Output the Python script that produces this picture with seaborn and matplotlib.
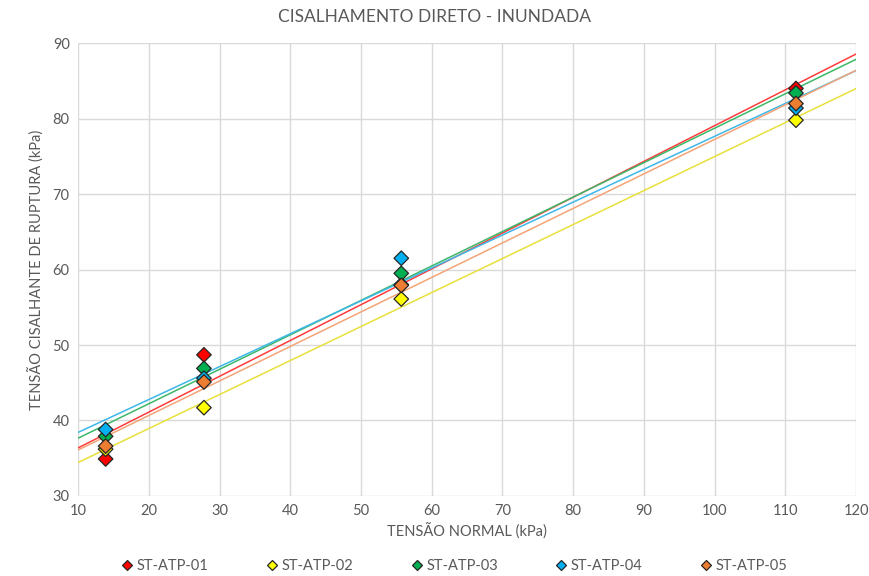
import numpy as np
import pandas as pd
import matplotlib
matplotlib.use("Agg")
import matplotlib.pyplot as plt
import seaborn as sns

# dados
tensao_normal = [13.9, 27.8, 55.7, 111.5]
amostras = ["ST-ATP-01", "ST-ATP-02", "ST-ATP-03", "ST-ATP-04", "ST-ATP-05"]
st_atp_01 = [34.9, 48.7, 58.0, 84.0]
st_atp_02 = [36.2, 41.7, 56.1, 79.8]
st_atp_03 = [37.9, 46.9, 59.5, 83.4]
st_atp_04 = [38.8, 45.6, 61.5, 81.4]
st_atp_05 = [36.6, 45.1, 57.9, 82.0]

cores = ["#FF0000", "#FFFF00", "#00B050", "#00B0F0", "#ED7D31"]
cores_linha = ["#FF3B3B", "#E8E03C", "#3CB86A", "#3DB7E8", "#F4A477"]

serie = [st_atp_01, st_atp_02, st_atp_03, st_atp_04, st_atp_05]
df = pd.DataFrame({
    "x": tensao_normal * len(amostras),
    "y": sum(serie, []),
    "amostra": np.repeat(amostras, len(tensao_normal)),
})

sns.set_theme(style="whitegrid")
plt.rcParams["font.family"] = ["Lato", "DejaVu Sans"]
cinza = "#595959"

fig = plt.figure(figsize=(8.7, 5.76), dpi=100)
ax = fig.add_axes([0.0897, 0.139, 0.8943, 0.786])

# linhas de tendência (linear), estendidas até os limites do eixo
xs = np.array([10, 120])
for nome, cor in zip(amostras, cores_linha):
    sub = df[df["amostra"] == nome]
    a, b = np.polyfit(sub["x"], sub["y"], 1)
    ax.plot(xs, a * xs + b, color=cor, lw=1.1, zorder=2)

sns.scatterplot(data=df, x="x", y="y", hue="amostra", palette=cores,
                marker="D", s=55, edgecolor="#262626", linewidth=0.9,
                ax=ax, zorder=3)

ax.set_xlim(10, 120)
ax.set_ylim(30, 90)
ax.set_xticks(range(10, 121, 10))
ax.set_yticks(range(30, 91, 10))
ax.grid(color="#D9D9D9", lw=1)
for s in ax.spines.values():
    s.set_visible(False)
ax.tick_params(colors=cinza, labelsize=10.5, length=0, pad=6)
ax.set_xlabel("TENSÃO NORMAL (kPa)", color=cinza, fontsize=10.5, labelpad=4)
ax.set_ylabel("TENSÃO CISALHANTE DE RUPTURA (kPa)", color=cinza, fontsize=10.5, labelpad=6)
fig.suptitle("CISALHAMENTO DIRETO - INUNDADA", color=cinza, fontsize=12.5, y=0.985)

ax.legend(loc="upper center", bbox_to_anchor=(0.482, -0.11), ncol=5, frameon=False,
          fontsize=10.5, labelcolor=cinza, handletextpad=0.05, columnspacing=3.75,
          markerscale=0.75, handlelength=1.2)

fig.savefig("out.png", dpi=100)
